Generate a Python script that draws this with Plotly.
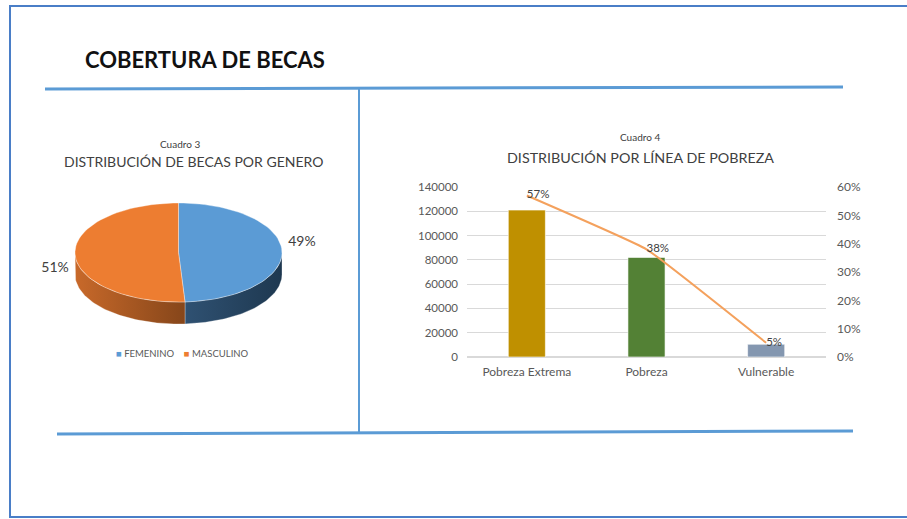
import math
import plotly.graph_objects as go

# ---------------- data ----------------
gender_labels = ["FEMENINO", "MASCULINO"]
gender_share = [49, 51]

poverty_cats = ["Pobreza Extrema", "Pobreza", "Vulnerable"]
poverty_counts = [121000, 82000, 10500]
poverty_pct = [0.57, 0.38, 0.05]

left_ticks = [0, 20000, 40000, 60000, 80000, 100000, 120000, 140000]
right_ticks = [0, 0.1, 0.2, 0.3, 0.4, 0.5, 0.6]

# ---------------- style ----------------
W, H = 907, 519
FONT = "Lato"
GREY = "#595959"
DARK = "#404040"
LINE_BLUE = "#5B9BD5"
top_colors = ["#5B9BD5", "#ED7D31"]
side_grad = [["#2F5172", "#1E3850"], ["#C8692A", "#86461A"]]
bar_colors = ["#BF9000", "#538135", "#8497B0"]
label_dy = [-8, 14]


def px(x):
    return x / W


def py(y):
    return 1 - y / H


# pie geometry (pixel space of overlay axis)
cx, cy, rx, ry, depth = 178.5, 252.5, 103.5, 49.5, 22


def pt(deg, dy=0.0):
    t = math.radians(deg)
    return cx + rx * math.sin(t), cy - ry * math.cos(t) + dy


def arc(a, b, dy=0.0, n=60):
    xs, ys = [], []
    for i in range(n + 1):
        d = a + (b - a) * i / n
        x, y = pt(d, dy)
        xs.append(x)
        ys.append(y)
    return xs, ys


fig = go.Figure()

# cumulative angles from data
total = sum(gender_share)
bounds = []
acc = 0.0
for v in gender_share:
    a = acc / total * 360
    acc += v
    b = acc / total * 360
    bounds.append((a, b))

# side faces (front half 90..270)
for i, (a, b) in enumerate(bounds):
    lo, hi = max(a, 90), min(b, 270)
    if hi <= lo:
        continue
    xt, yt = arc(lo, hi)
    xb, yb = arc(hi, lo, depth)
    fig.add_trace(go.Scatter(
        x=xt + xb + [xt[0]], y=yt + yb + [yt[0]],
        xaxis="x3", yaxis="y3", mode="lines", fill="toself",
        line=dict(width=0.6, color="rgba(255,255,255,0.5)"),
        fillgradient=dict(type="horizontal",
                          colorscale=[[0, side_grad[i][0]], [1, side_grad[i][1]]]),
        hoverinfo="skip", showlegend=False))

# top faces
for i, (a, b) in enumerate(bounds):
    xs, ys = arc(a, b)
    fig.add_trace(go.Scatter(
        x=[cx] + xs + [cx], y=[cy] + ys + [cy],
        xaxis="x3", yaxis="y3", mode="lines", fill="toself",
        fillcolor=top_colors[i],
        line=dict(width=0.6, color="rgba(255,255,255,0.6)"),
        name=gender_labels[i], hoverinfo="skip", showlegend=False))

# pie labels
lx, ly, lt = [], [], []
for i, (a, b) in enumerate(bounds):
    m = (a + b) / 2
    t = math.radians(m)
    lx.append(cx + (rx + 20) * math.sin(t))
    ly.append(cy - ry * math.cos(t) + label_dy[i])
    lt.append(f"{gender_share[i]}%")
fig.add_trace(go.Scatter(
    x=lx, y=ly, text=lt, mode="text", xaxis="x3", yaxis="y3",
    textfont=dict(family=FONT, size=14, color=DARK),
    hoverinfo="skip", showlegend=False))

# bars
fig.add_trace(go.Bar(
    x=poverty_cats, y=poverty_counts,
    marker=dict(color=bar_colors, line=dict(color="rgba(255,255,255,0.6)", width=1)),
    width=0.31, xaxis="x", yaxis="y", showlegend=False))

# percentage line
fig.add_trace(go.Scatter(
    x=poverty_cats, y=poverty_pct, xaxis="x", yaxis="y2",
    mode="lines+text", text=[f"{round(p*100)}%" for p in poverty_pct],
    textposition="middle right",
    textfont=dict(family=FONT, size=11.5, color=DARK),
    line=dict(color="#F4A15D", width=2, shape="spline", smoothing=0.3),
    cliponaxis=False, showlegend=False))

fig.update_layout(
    width=W, height=H,
    margin=dict(l=0, r=0, t=0, b=0, pad=0, autoexpand=False),
    paper_bgcolor="white", plot_bgcolor="rgba(0,0,0,0)",
    font=dict(family=FONT, color=GREY),
    xaxis=dict(domain=[px(467), px(826)], range=[-0.5, 2.5], anchor="y",
               showgrid=False, showline=False, zeroline=False, ticks="",
               tickfont=dict(size=12, color=GREY), ticklabelstandoff=6,
               automargin=False, fixedrange=True),
    yaxis=dict(domain=[py(357), py(187)], range=[0, 140000], anchor="x",
               tickvals=left_ticks, ticktext=[str(v) for v in left_ticks],
               showgrid=True, gridcolor="#D9D9D9", gridwidth=1,
               zeroline=True, zerolinecolor="#D9D9D9", showline=False,
               tickfont=dict(size=11.5, color=GREY), ticklabelstandoff=8,
               automargin=False, fixedrange=True),
    yaxis2=dict(overlaying="y", side="right", anchor="x", range=[0, 0.6],
                tickvals=right_ticks, tickformat=".0%", showgrid=False,
                zeroline=False, showline=False,
                tickfont=dict(size=12, color=GREY), ticklabelstandoff=10,
                automargin=False, fixedrange=True),
    xaxis3=dict(domain=[0, 1], range=[0, W], anchor="y3", visible=False,
                automargin=False, fixedrange=True),
    yaxis3=dict(domain=[0, 1], range=[H, 0], anchor="x3", visible=False,
                automargin=False, fixedrange=True),
)

# frame and separator lines
shapes = [
    dict(type="rect", xref="paper", yref="paper", x0=px(10), x1=px(912),
         y0=py(517), y1=py(6), line=dict(color="#4A7EC7", width=2)),
    dict(type="line", xref="paper", yref="paper", x0=px(45), x1=px(843),
         y0=py(89), y1=py(87), line=dict(color=LINE_BLUE, width=3)),
    dict(type="line", xref="paper", yref="paper", x0=px(359), x1=px(359),
         y0=py(88), y1=py(433), line=dict(color=LINE_BLUE, width=2)),
    dict(type="line", xref="paper", yref="paper", x0=px(57), x1=px(853),
         y0=py(434), y1=py(431), line=dict(color=LINE_BLUE, width=3)),
]
fig.update_layout(shapes=shapes)

ann = [
    dict(text="<b>COBERTURA DE BECAS</b>", x=px(83), y=py(60), xanchor="left",
         yanchor="middle", font=dict(size=22, color="#111111")),
    dict(text="Cuadro 3", x=px(180), y=py(144), font=dict(size=10, color=DARK)),
    dict(text="DISTRIBUCIÓN DE BECAS POR GENERO", x=px(193), y=py(162),
         font=dict(size=14, color=DARK)),
    dict(text="Cuadro 4", x=px(640), y=py(137), font=dict(size=10, color=DARK)),
    dict(text="DISTRIBUCIÓN POR LÍNEA DE POBREZA", x=px(640), y=py(157),
         font=dict(size=14.3, color=DARK)),
    dict(text=f"<span style='color:{top_colors[0]}'>■</span> {gender_labels[0]}"
              f"&nbsp;&nbsp;&nbsp;&nbsp;<span style='color:{top_colors[1]}'>■</span> {gender_labels[1]}",
         x=px(182.5), y=py(353), font=dict(size=9.5, color=GREY)),
]
for a in ann:
    a.setdefault("xref", "paper")
    a.setdefault("yref", "paper")
    a.setdefault("showarrow", False)
    a.setdefault("xanchor", "center")
    a.setdefault("yanchor", "middle")
    a["font"]["family"] = FONT
fig.update_layout(annotations=ann)

fig.write_html(
    "out.html",
    config={"displayModeBar": False},
    post_script="document.body.style.margin='0';document.body.style.padding='0';"
                "document.documentElement.style.overflow='hidden';",
)
